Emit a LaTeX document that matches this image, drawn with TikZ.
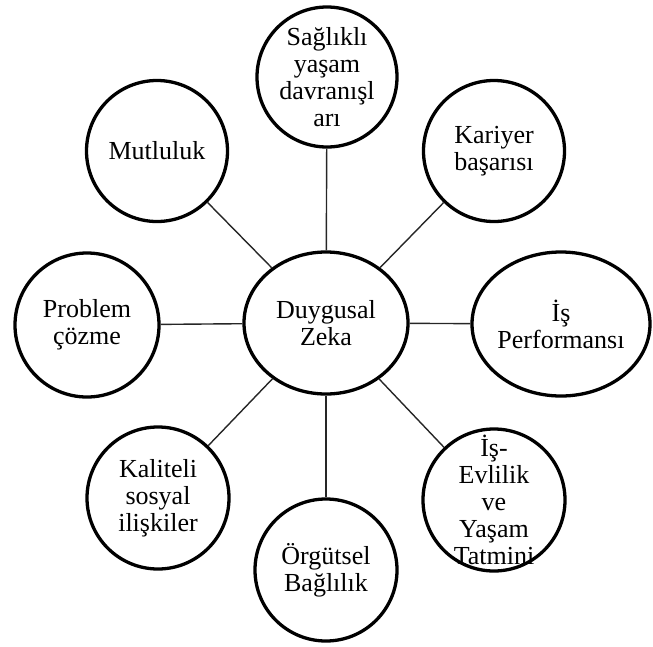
\documentclass[tikz,border=0pt]{standalone}
\usepackage{fontspec}
\setmainfont{Liberation Serif}
\usetikzlibrary{shapes.geometric}
\tikzset{
  bub/.style={circle, draw=black, line width=3.3pt, inner sep=0pt, minimum size=#1},
  oval/.style={ellipse, draw=black, line width=3.3pt, inner sep=0pt},
  txt/.style={align=center, inner sep=0pt, font=\fontsize{26}{27}\selectfont, text=black},
  link/.style={draw=black!85, line width=1.4pt}
}
\begin{document}
\begin{tikzpicture}[x=1pt,y=-1pt]
\useasboundingbox (0,0) rectangle (653,646);
% shapes
\node[oval, minimum width=164pt, minimum height=142pt] (Z) at (326,323) {};
\node[bub=140pt] (S) at (327,77) {};
\node[bub=141pt] (M) at (157,151) {};
\node[bub=141pt] (K) at (494,151) {};
\node[bub=144pt] (P) at (87,325) {};
\node[oval, minimum width=178pt, minimum height=144pt] (IP) at (561,324) {};
\node[bub=142pt] (KS) at (158,498) {};
\node[bub=142pt] (O) at (326,570) {};
\node[bub=142pt] (E) at (494,500) {};
% connectors
\draw[link] (Z) -- (S);
\draw[link] (Z) -- (M);
\draw[link] (Z) -- (K);
\draw[link] (Z) -- (P);
\draw[link] (Z) -- (IP);
\draw[link] (Z) -- (KS);
\draw[link] (Z) -- (O);
\draw[link] (Z) -- (E);
% texts
\node[txt] (tZ) at (Z) {Duygusal\\Zeka};
\node[txt] (tS) at (S) {Sağlıklı\\yaşam\\davranışl\\arı};
\node[txt] (tM) at (M) {Mutluluk};
\node[txt] (tK) at (K) {Kariyer\\başarısı};
\node[txt] (tP) at (P) {Problem\\çözme};
\node[txt] (tIP) at (IP) {İş\\Performansı};
\node[txt] (tKS) at (KS) {Kaliteli\\sosyal\\ilişkiler};
\node[txt] (tO) at (O) {Örgütsel\\Bağlılık};
\node[txt] (tE) at (E) {İş-\\Evlilik\\ve\\Yaşam\\Tatmini};
\end{tikzpicture}
\end{document}
